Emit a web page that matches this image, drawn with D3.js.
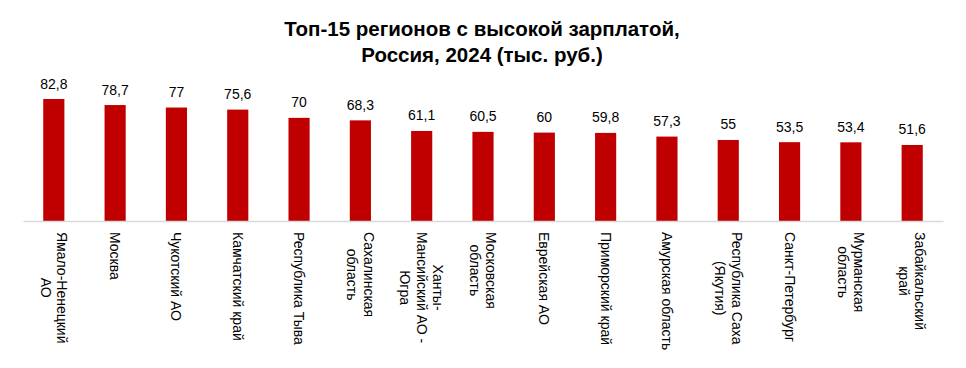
<!DOCTYPE html>
<html>
<head>
<meta charset="utf-8">
<script src="https://cdn.jsdelivr.net/npm/d3@7"></script>
<style>
  body { margin: 0; background: #fff; }
  text { font-family: "Liberation Sans", Arial, sans-serif; fill: #000; }
</style>
</head>
<body>
<div class="chart"></div>
<script>
// data
var regions = [
  "Ямало-Ненецкий\nАО", "Москва", "Чукотский АО", "Камчатский край", "Республика Тыва",
  "Сахалинская\nобласть", "Ханты-\nМансийский АО -\nЮгра", "Московская\nобласть",
  "Еврейская АО", "Приморский край", "Амурская область", "Республика Саха\n(Якутия)",
  "Санкт-Петербург", "Мурманская\nобласть", "Забайкальский\nкрай"
];
var salaries = [82.8, 78.7, 77, 75.6, 70, 68.3, 61.1, 60.5, 60, 59.8, 57.3, 55, 53.5, 53.4, 51.6];
var titleLines = ["Топ-15 регионов с высокой зарплатой,", "Россия, 2024 (тыс. руб.)"];

var width = 966, height = 368;
var baseY = 221;

var svg = d3.select(".chart").append("svg")
    .attr("width", width)
    .attr("height", height);

// scales
var x = d3.scaleBand()
    .domain(d3.range(regions.length))
    .range([23, 943])
    .paddingInner(0.655)
    .paddingOuter(0.33);

var y = d3.scaleLinear()
    .domain([0, 90])
    .range([baseY, baseY - 90 * 1.4734]);

// title
svg.append("text")
    .attr("x", 482)
    .attr("text-anchor", "middle")
    .style("font-weight", "bold")
    .style("font-size", "20.5px")
  .selectAll("tspan")
    .data(titleLines)
  .enter().append("tspan")
    .attr("x", 482)
    .attr("y", function(d, i) { return 36 + i * 26; })
    .text(function(d) { return d; });

// bars
svg.selectAll(".bar")
    .data(salaries)
  .enter().append("rect")
    .attr("class", "bar")
    .attr("x", function(d, i) { return x(i); })
    .attr("width", x.bandwidth())
    .attr("y", function(d) { return y(d); })
    .attr("height", function(d) { return baseY - y(d); })
    .style("fill", "#c00000");

// value labels
svg.selectAll(".val")
    .data(salaries)
  .enter().append("text")
    .attr("class", "val")
    .attr("x", function(d, i) { return x(i) + x.bandwidth() / 2; })
    .attr("y", function(d) { return y(d) - 10.5; })
    .attr("text-anchor", "middle")
    .style("font-size", "14px")
    .text(function(d) { return String(d).replace(".", ","); });

// x axis line
svg.append("g")
    .attr("transform", "translate(0," + baseY + ")")
    .call(d3.axisBottom(x).tickSize(0).tickFormat(""))
    .call(function(g) {
      g.select(".domain").attr("stroke", "#d9d9d9").attr("stroke-width", 1.3);
    });

// category labels, rotated
var lineH = 16.5;
var labels = svg.selectAll(".cat")
    .data(regions)
  .enter().append("text")
    .attr("class", "cat")
    .attr("transform", function(d, i) {
      return "translate(" + (x(i) + x.bandwidth() / 2) + ",232) rotate(90)";
    })
    .style("font-size", "14px")
    .attr("text-anchor", "middle")
    .attr("dominant-baseline", "central");

labels.each(function(d) {
  var t = d3.select(this);
  var lines = d.split("\n");
  var n = lines.length;
  var spans = lines.map(function(l, j) {
    return t.append("tspan")
      .attr("y", (j - (n - 1) / 2) * lineH)
      .text(l);
  });
  var maxLen = d3.max(spans, function(s) { return s.node().getComputedTextLength(); });
  spans.forEach(function(s) { s.attr("x", maxLen / 2); });
});
</script>
</body>
</html>
